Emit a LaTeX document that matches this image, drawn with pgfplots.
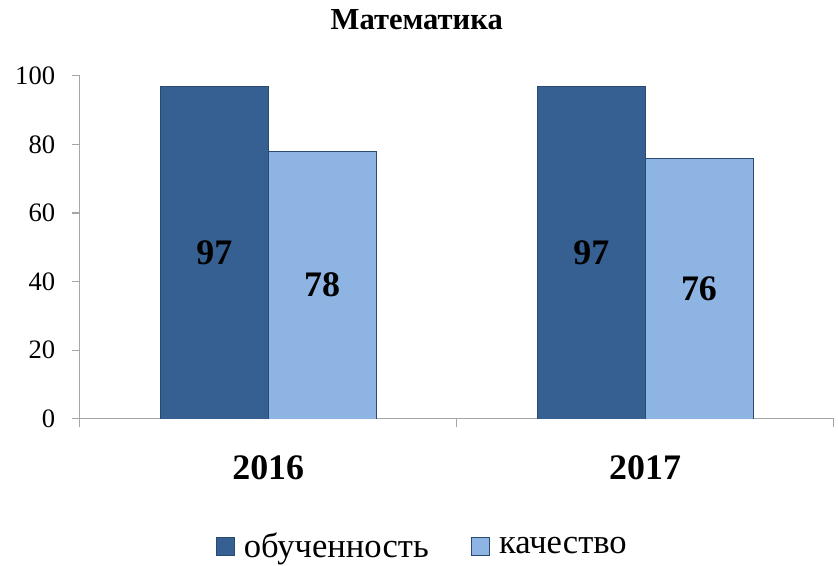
\documentclass[border=0pt]{standalone}
\usepackage{pgfplots}
\pgfplotsset{compat=1.18}
\usepackage{fontspec}
\setmainfont{Liberation Serif}
\definecolor{darkbar}{HTML}{366092}
\definecolor{lightbar}{HTML}{8EB4E3}
\definecolor{baredge}{HTML}{2A4A70}
\definecolor{axisgray}{HTML}{A6A6A6}
\begin{document}
\begin{tikzpicture}
\begin{axis}[
  name=ax, scale only axis, width=567pt, height=258pt,
  xmin=-0.5, xmax=1.5, ymin=0, ymax=100,
  axis x line*=bottom, axis y line*=left,
  axis line style={draw=axisgray, line width=0.8pt},
  tick align=outside, major tick length=6pt,
  tick style={draw=axisgray, line width=0.8pt},
  xtick={-0.5,0.5,1.5}, xticklabels={},
  extra x ticks={0,1}, extra x tick labels={2016,2017},
  extra x tick style={major tick length=0pt, tick style={draw=none},
    xticklabel style={font=\fontsize{27}{32}\selectfont\bfseries, yshift=-24pt}},
  ytick={0,20,...,100},
  yticklabel style={font=\fontsize{20}{24}\selectfont, xshift=-9pt},
  /pgf/number format/assume math mode=true,
  title={Математика},
  title style={at={(0.447,1)}, anchor=center, yshift=36pt, font=\fontsize{23}{28}\selectfont\bfseries},
  legend style={at={(0.455,-0.372)}, anchor=center, draw=none, legend columns=2,
    font=\fontsize{26}{30}\selectfont,
    /tikz/every odd column/.append style={column sep=5pt},
    /tikz/every even column/.append style={column sep=30pt}},
  legend image code/.code={\draw[#1, draw=baredge] (0pt,-6.75pt) rectangle (13.5pt,6.75pt);},
  visualization depends on={y \as \rawy},
]
\addplot[ybar, bar width=0.2857, bar shift=-0.1429, fill=darkbar, draw=baredge,
  nodes near coords,
  every node near coord/.append style={anchor=center, text=black, font=\fontsize{27}{32}\selectfont\bfseries,
    shift={(axis direction cs:-0.1429,-\rawy/2)}}] coordinates {(0,97) (1,97)};
\addlegendentry{обученность}
\addplot[ybar, bar width=0.2857, bar shift=0.1429, fill=lightbar, draw=baredge,
  nodes near coords,
  every node near coord/.append style={anchor=center, text=black, font=\fontsize{27}{32}\selectfont\bfseries,
    shift={(axis direction cs:0.1429,-\rawy/2)}}] coordinates {(0,78) (1,76)};
\addlegendentry{качество}
\end{axis}
\path ([xshift=-60pt,yshift=-108pt]ax.south west) rectangle ([xshift=1.5pt,yshift=57pt]ax.north east);
\end{tikzpicture}
\end{document}
